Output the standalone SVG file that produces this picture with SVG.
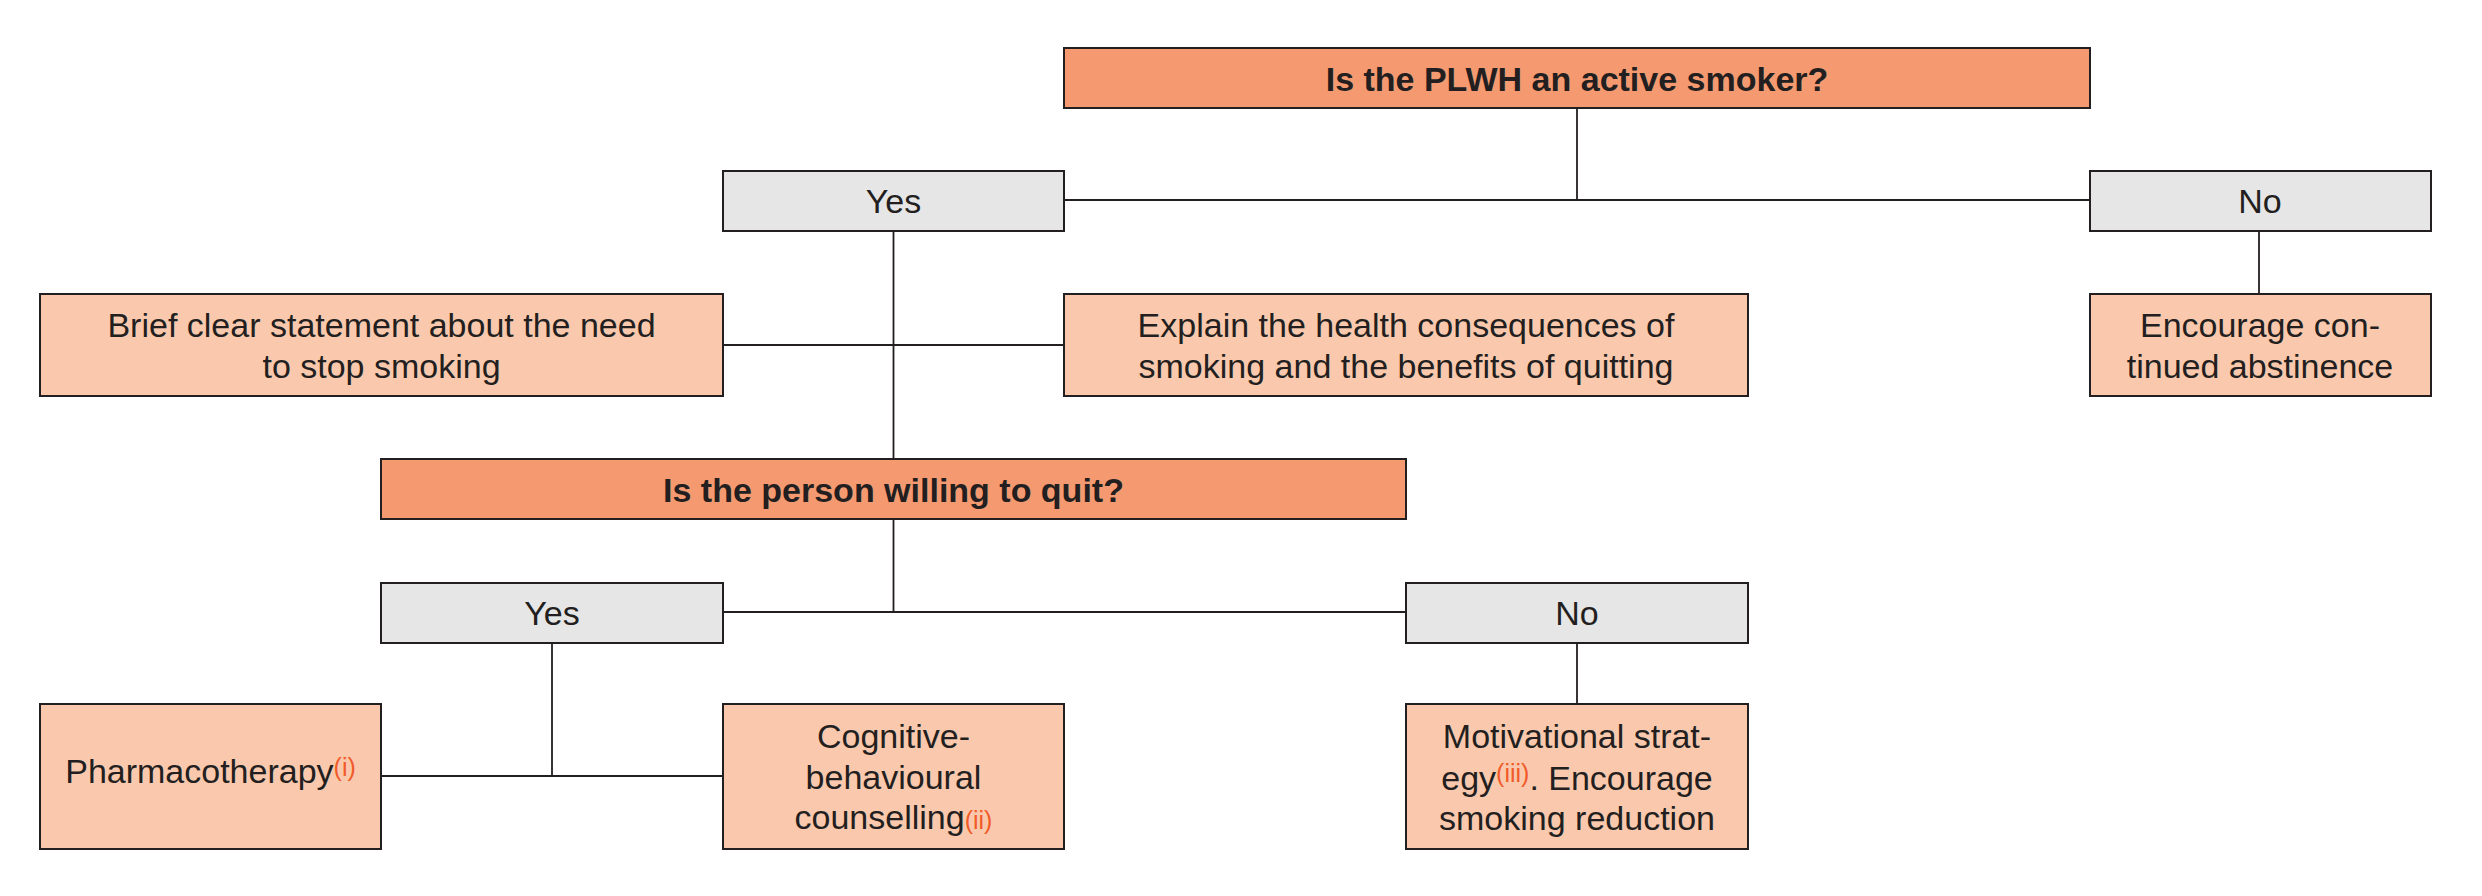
<svg xmlns="http://www.w3.org/2000/svg" width="2482" height="896" viewBox="0 0 2482 896">
<style>
.q{fill:#F59A70;stroke:#231F20;stroke-width:2}
.a{fill:#FAC9AD;stroke:#231F20;stroke-width:2}
.g{fill:#E6E6E6;stroke:#231F20;stroke-width:2}
text{font-family:"Liberation Sans",Arial,sans-serif;font-size:34px;fill:#231F20;text-anchor:middle}
.b{font-weight:bold}
.sup{fill:#F15A29;font-size:25px}
.c{stroke:#231F20;stroke-width:1.8;fill:none}
</style>
<rect width="2482" height="896" fill="#FFFFFF"/>
<g id="connectors">
<path class="c" d="M1577 108V200M1064 200H2090"/>
<path class="c" d="M2259 231V294"/>
<path class="c" d="M893.5 231V459M723 345H1064"/>
<path class="c" d="M893.5 519V612M723 612H1406"/>
<path class="c" d="M552 643V776M381 776H723"/>
<path class="c" d="M1577 643V704"/>
</g>
<g id="q1"><rect class="q" x="1064" y="48" width="1026" height="60"/><text class="b" x="1577" y="91">Is the PLWH an active smoker?</text></g>
<g id="yes1"><rect class="g" x="723" y="171" width="341" height="60"/><text x="893.5" y="213">Yes</text></g>
<g id="no1"><rect class="g" x="2090" y="171" width="341" height="60"/><text x="2260" y="213">No</text></g>
<g id="brief"><rect class="a" x="40" y="294" width="683" height="102"/><text x="381.5" y="337">Brief clear statement about the need</text><text x="381.5" y="378">to stop smoking</text></g>
<g id="explain"><rect class="a" x="1064" y="294" width="684" height="102"/><text x="1406" y="337">Explain the health consequences of</text><text x="1406" y="378">smoking and the benefits of quitting</text></g>
<g id="abstinence"><rect class="a" x="2090" y="294" width="341" height="102"/><text x="2260" y="337">Encourage con-</text><text x="2260" y="378">tinued abstinence</text></g>
<g id="q2"><rect class="q" x="381" y="459" width="1025" height="60"/><text class="b" x="893.5" y="502">Is the person willing to quit?</text></g>
<g id="yes2"><rect class="g" x="381" y="583" width="342" height="60"/><text x="552" y="625">Yes</text></g>
<g id="no2"><rect class="g" x="1406" y="583" width="342" height="60"/><text x="1577" y="625">No</text></g>
<g id="pharma"><rect class="a" x="40" y="704" width="341" height="145"/><text x="210.5" y="783">Pharmacotherapy<tspan class="sup" dy="-7">(i)</tspan></text></g>
<g id="cbt"><rect class="a" x="723" y="704" width="341" height="145"/><text x="893.5" y="748">Cognitive-</text><text x="893.5" y="789">behavioural</text><text x="893.5" y="829">counselling<tspan class="sup">(ii)</tspan></text></g>
<g id="motiv"><rect class="a" x="1406" y="704" width="342" height="145"/><text x="1577" y="748">Motivational strat-</text><text x="1577" y="790">egy<tspan class="sup" dy="-8">(iii)</tspan><tspan dy="8">. Encourage</tspan></text><text x="1577" y="830">smoking reduction</text></g>
</svg>
